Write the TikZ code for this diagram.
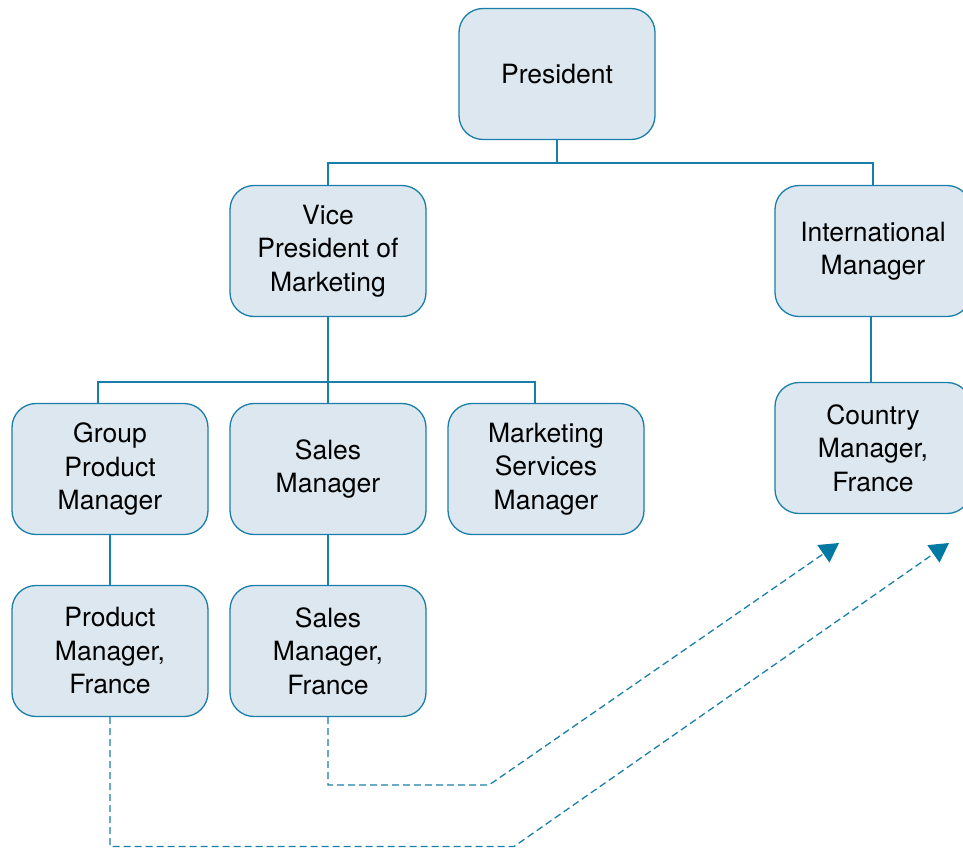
\documentclass[tikz,border=0pt]{standalone}
\usepackage{fontspec}
\setmainfont{TeX Gyre Heros}
\usetikzlibrary{arrows.meta,positioning}
\definecolor{orgblue}{HTML}{1A7FA8}
\definecolor{orgfill}{HTML}{DCE7EF}
\definecolor{tipblue}{HTML}{0079A3}

\begin{document}
\begin{tikzpicture}[
    x=1pt, y=-1pt,
    unit/.style={draw=orgblue, fill=orgfill, line width=1.3pt, rounded corners=24pt, minimum width=196pt, minimum height=131pt, inner sep=0pt, align=center, font=\fontsize{26.5}{33.5}\selectfont},
    tie/.style={draw=orgblue, line width=1.3pt},
    liaison/.style={draw=orgblue, line width=1.3pt, dash pattern=on 7pt off 4pt, -{Triangle[length=19pt,width=21pt,fill=tipblue,color=tipblue]}}
  ]
    \useasboundingbox (0,0) rectangle (963,848);
    \node[unit] (pres) at (557,74)  {President};
    \node[unit] (vp)   at (328,251) {Vice\\President of\\Marketing};
    \node[unit] (intl) at (873,251) {International\\Manager};
    \node[unit] (gpm)  at (110,469) {Group\\Product\\Manager};
    \node[unit] (sm)   at (328,469) {Sales\\Manager};
    \node[unit] (msm)  at (546,469) {Marketing\\Services\\Manager};
    \node[unit] (cmf)  at (873,448) {Country\\Manager,\\France};
    \node[unit] (pmf)  at (110,651) {Product\\Manager,\\France};
    \node[unit] (smf)  at (328,651) {Sales\\Manager,\\France};
    \coordinate (pbar) at (557,163);
    \coordinate (vbar) at (328,382);
    \coordinate (kink1) at (489,785);
    \coordinate (kink2) at (514,846.5);
    \coordinate (tip1) at (839,543);
    \coordinate (tip2) at (949,543);
    % solid reporting lines
    \draw[tie] (pres.south) -- (pbar);
    \draw[tie] (vp.north) |- (pbar) -| (intl.north);
    \draw[tie] (vp.south) -- (sm.north);
    \draw[tie] ([xshift=-12pt]gpm.north) |- (vbar) -| ([xshift=-11pt]msm.north);
    \draw[tie] (gpm) -- (pmf);
    \draw[tie] (sm) -- (smf);
    \draw[tie] ([xshift=-2pt]intl.south) -- ([xshift=-2pt]cmf.north);
    % dashed links to the country manager
    \draw[liaison] (smf.south) |- (kink1) -- (tip1);
    \draw[liaison] (pmf.south) |- (kink2) -- (tip2);
  \end{tikzpicture}
\end{document}
